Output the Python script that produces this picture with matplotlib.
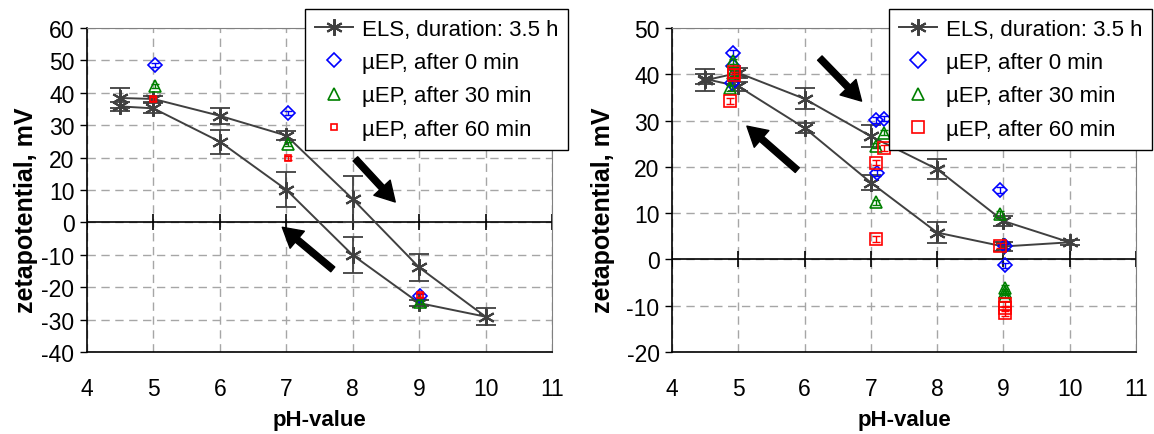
import matplotlib.pyplot as plt
from matplotlib.lines import Line2D

plt.rcParams['font.family'] = ['Liberation Sans', 'DejaVu Sans']
plt.rcParams['axes.unicode_minus'] = False

# ELS loop: up the pH scale, then back down (left: first sample, right: second sample)
ph_els_a = [4.5, 5, 6, 7, 8, 9, 10, 9, 8, 7, 6, 5, 4.5]
zeta_els_a = [38.4, 38.1, 32.9, 26.8, 7.2, -13.9, -29.1, -24.9, -10.1, 10.1, 24.9, 35.2, 35.8]
err_els_a = [3.0, 1.0, 2.5, 1.5, 7.0, 4.3, 2.7, 1.0, 5.5, 5.5, 3.7, 1.5, 1.5]

ph_els_b = [4.5, 5, 6, 7, 8, 9, 10, 9, 8, 7, 6, 5, 4.5]
zeta_els_b = [38.7, 40.3, 34.7, 26.6, 19.5, 8.3, 3.7, 2.8, 5.8, 16.6, 28.4, 37.4, 39.0]
err_els_b = [2.4, 1.0, 2.3, 2.4, 2.2, 1.0, 0.5, 1.0, 2.3, 1.7, 1.0, 1.0, 1.0]

# microelectrophoresis, left sample
ph_ep0_a = [5.02, 7.03, 9.02]
zeta_ep0_a = [48.6, 33.8, -22.6]
ph_ep30_a = [5.02, 7.03, 9.02]
zeta_ep30_a = [42.2, 24.2, -24.7]
ph_ep60_a = [5.0, 7.03, 9.02]
zeta_ep60_a = [38.1, 19.8, -22.3]

# microelectrophoresis, right sample
ph_ep0_b = [4.92, 4.92, 4.9, 7.08, 7.2, 7.09, 8.95, 9.02, 9.02]
zeta_ep0_b = [44.6, 41.7, 38.1, 30.1, 30.4, 18.7, 15.0, 2.8, -1.3]
ph_ep30_b = [4.92, 4.92, 4.88, 7.2, 7.08, 7.08, 8.95, 9.02, 9.02, 9.02]
zeta_ep30_b = [42.8, 40.3, 37.0, 27.4, 24.6, 12.3, 9.8, -6.2, -7.0, -7.8]
ph_ep60_b = [4.93, 4.93, 4.87, 7.2, 7.08, 7.08, 8.95, 9.02, 9.02, 9.02]
zeta_ep60_b = [40.6, 39.8, 34.2, 24.1, 20.9, 4.4, 3.0, -9.6, -10.6, -11.6]

ph_ticks = [4, 5, 6, 7, 8, 9, 10, 11]
yticks_a = list(range(-40, 61, 10))
yticks_b = list(range(-20, 51, 10))

labels = ['ELS, duration: 3.5 h', 'µEP, after 0 min',
          'µEP, after 30 min', 'µEP, after 60 min']

els_color = '#404040'
star = (6, 2, 0)

fig = plt.figure(figsize=(11.54, 4.35), dpi=100)
ax1 = fig.add_axes([87 / 1154, 82 / 435, 465 / 1154, 324 / 435])
ax2 = fig.add_axes([672 / 1154, 82 / 435, 464 / 1154, 324 / 435])


def draw(ax, ph, zeta, err, eps, yticks, sq):
    ax.errorbar(ph, zeta, yerr=err, fmt='none', ecolor=els_color,
                elinewidth=1.3, capsize=7, capthick=1.3, zorder=3)
    ax.plot(ph, zeta, color=els_color, lw=1.4, marker=star, ms=12,
            mew=1.5, zorder=4)
    for (x, y), c, m, s in zip(eps, ['blue', 'green', 'red'], ['D', '^', 's'], sq):
        ax.errorbar(x, y, yerr=0.6, fmt='none', ecolor=c, elinewidth=1,
                    capsize=3, zorder=5)
        ax.plot(x, y, ls='none', marker=m, ms=s, mfc='none', mec=c,
                mew=1.2, zorder=5)
    ax.set_xlim(4, 11)
    ax.set_ylim(yticks[0], yticks[-1])
    ax.set_xticks(ph_ticks)
    ax.set_yticks(yticks)
    ax.grid(True, ls=(0, (6, 4)), color='#a6a6a6', lw=1)
    ax.set_axisbelow(True)
    ax.axhline(0, color='black', lw=1.2, zorder=2)
    ax.plot(ph_ticks, [0] * len(ph_ticks), ls='none', marker='|', ms=11,
            mew=1.2, color='black', zorder=2)
    ax.tick_params(axis='x', length=0, pad=18, labelsize=16.5)
    ax.tick_params(axis='y', length=5, width=1, direction='out', pad=4,
                   labelsize=16.5)
    for side in ['top', 'right']:
        ax.spines[side].set_color('#808080')
    for side in ['left', 'bottom']:
        ax.spines[side].set_color('black')
        ax.spines[side].set_linewidth(1.2)
    ax.set_xlabel('pH-value', fontsize=16, fontweight='bold')
    ax.set_ylabel('zetapotential, mV', fontsize=18, fontweight='bold')


draw(ax1, ph_els_a, zeta_els_a, err_els_a,
     [(ph_ep0_a, zeta_ep0_a), (ph_ep30_a, zeta_ep30_a), (ph_ep60_a, zeta_ep60_a)],
     yticks_a, [7, 8, 5])
draw(ax2, ph_els_b, zeta_els_b, err_els_b,
     [(ph_ep0_b, zeta_ep0_b), (ph_ep30_b, zeta_ep30_b), (ph_ep60_b, zeta_ep60_b)],
     yticks_b, [7, 9, 8])

ax1.yaxis.set_label_coords(-0.105, 0.44)
ax2.yaxis.set_label_coords(-0.123, 0.44)
ax1.xaxis.set_label_coords(0.5, -0.175)
ax2.xaxis.set_label_coords(0.5, -0.175)

# direction arrows
arrow = dict(facecolor='black', edgecolor='black', width=4.5, headwidth=16,
             headlength=14, shrink=0)
ax1.annotate('', xy=(8.64, 6.3), xytext=(8.04, 19.6), arrowprops=arrow)
ax1.annotate('', xy=(6.94, -1.5), xytext=(7.7, -14.5), arrowprops=arrow)
ax2.annotate('', xy=(6.86, 34.2), xytext=(6.23, 43.5), arrowprops=arrow)
ax2.annotate('', xy=(5.13, 28.8), xytext=(5.89, 19.3), arrowprops=arrow)

# legends
for ax, sq, right in [(ax1, [7, 8, 5], 568), (ax2, [8, 9, 9], 1152)]:
    handles = [Line2D([], [], color=els_color, lw=1.4, marker=star, ms=12, mew=1.5)]
    for c, m, s in zip(['blue', 'green', 'red'], ['D', '^', 's'], sq):
        handles.append(Line2D([], [], ls='none', marker=m, ms=s, mfc='none',
                              mec=c, mew=1.2))
    leg = ax.legend(handles, labels, loc='upper right',
                    bbox_to_anchor=(right / 1154, 1 - 10 / 435),
                    bbox_transform=fig.transFigure, fontsize=16,
                    fancybox=False, edgecolor='black', framealpha=1,
                    borderaxespad=0, handlelength=1.7, handletextpad=0.4,
                    labelspacing=0.55, borderpad=0.45)
    leg.get_frame().set_linewidth(1)
    leg.set_zorder(10)

fig.savefig('out.png', dpi=100)
